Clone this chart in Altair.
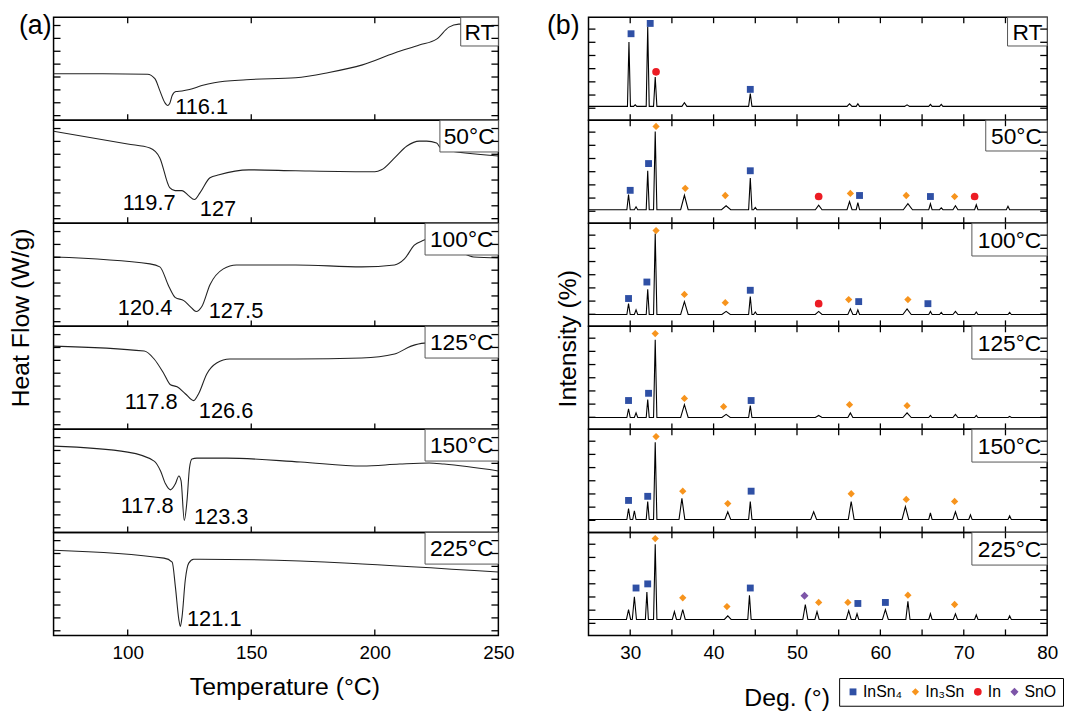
import altair as alt
import pandas as pd

FONT = "Liberation Sans"
W_L, W_R, H = 449, 463, 104

PANELS = ["RT", "50°C", "100°C", "125°C", "150°C", "225°C"]

# ---------------- DSC curves (T in °C, y = fraction of panel height) ----------------
DSC_RT = [(70, 0.452), (90, 0.452), (108, 0.447), (111, 0.404), (113, 0.288), (115, 0.173),
          (116.1, 0.144), (117, 0.163), (118, 0.24), (119.5, 0.279), (122, 0.284), (125, 0.298),
          (130, 0.337), (135, 0.365), (148, 0.394), (168, 0.413), (181, 0.462), (195, 0.538),
          (208, 0.654), (218, 0.731), (225, 0.788), (230, 0.904), (234, 0.933), (250, 0.942)]
DSC_50 = [(70, 0.894), (100, 0.77), (109, 0.731), (113, 0.635), (117, 0.346), (119.2, 0.317),
          (122, 0.317), (124.6, 0.269), (127, 0.231), (129.3, 0.298), (133.3, 0.442), (137, 0.471),
          (149, 0.519), (168, 0.510), (200, 0.50), (202.7, 0.519), (208, 0.635), (213, 0.75),
          (218, 0.798), (221, 0.798), (225, 0.779), (227, 0.721), (250, 0.654)]
DSC_100 = [(70, 0.673), (109, 0.606), (113, 0.577), (116.7, 0.385), (119.3, 0.279), (122.7, 0.25),
           (125.3, 0.192), (127.7, 0.144), (130, 0.192), (133.3, 0.404), (138.7, 0.558), (144, 0.596),
           (168, 0.596), (194.7, 0.577), (208, 0.596), (212, 0.654), (216, 0.788), (220, 0.837),
           (224, 0.885), (235, 0.721), (240, 0.673), (250, 0.663)]
DSC_125 = [(70, 0.808), (106.7, 0.760), (110.7, 0.683), (114.7, 0.538), (117.3, 0.433), (120, 0.413),
           (123.3, 0.346), (126.7, 0.279), (128.7, 0.346), (132, 0.538), (136, 0.644), (141.3, 0.683),
           (168, 0.683), (194.7, 0.692), (208, 0.731), (214.7, 0.808), (220, 0.837), (250, 0.856)]
DSC_150 = [(70, 0.837), (100, 0.779), (110.7, 0.692), (113.3, 0.596), (115.3, 0.471), (117.3, 0.413),
           (119.3, 0.471), (120.7, 0.548), (121.6, 0.50), (122.9, 0.115), (124, 0.308), (125, 0.625),
           (126, 0.712), (128, 0.721), (140, 0.721), (170, 0.683), (195, 0.644), (210, 0.663),
           (222, 0.673), (228, 0.663), (250, 0.596)]
DSC_225 = [(70, 0.827), (114.7, 0.75), (118, 0.712), (119.3, 0.471), (120.7, 0.154), (121.3, 0.087),
           (122, 0.183), (123.3, 0.538), (124.7, 0.702), (126.7, 0.740), (129.3, 0.740), (250, 0.615)]
DSC_CURVES = [DSC_RT, DSC_50, DSC_100, DSC_125, DSC_150, DSC_225]

# peak labels: (T at left edge of text, y fraction, text)
DSC_LABELS = [
    [(119.2, 0.125, "116.1")],
    [(98.0, 0.20, "119.7"), (129.2, 0.135, "127")],
    [(96.0, 0.18, "120.4"), (132.8, 0.145, "127.5")],
    [(98.8, 0.265, "117.8"), (128.8, 0.18, "126.6")],
    [(97.2, 0.26, "117.8"), (126.8, 0.15, "123.3")],
    [(124.0, 0.155, "121.1")],
]

# ---------------- XRD patterns: baseline + peaks (position °, top fraction, half width °) ----------------
XRD_BASE = [0.135, 0.132, 0.115, 0.115, 0.125, 0.155]
XRD_RT = [(29.85, 0.76, 0.18), (30.6, 0.15, 0.2), (32.1, 0.91, 0.18), (33.0, 0.42, 0.2),
          (36.5, 0.17, 0.3), (44.4, 0.26, 0.2), (56.3, 0.16, 0.3), (57.3, 0.16, 0.2),
          (63.2, 0.15, 0.3), (66.0, 0.155, 0.2), (67.3, 0.155, 0.2)]
XRD_50 = [(29.8, 0.28, 0.2), (30.7, 0.16, 0.2), (32.1, 0.51, 0.18), (33.0, 0.89, 0.2),
          (36.5, 0.272, 0.45), (41.5, 0.17, 0.55), (44.4, 0.44, 0.2), (45.0, 0.155, 0.2),
          (52.6, 0.176, 0.4), (56.3, 0.21, 0.3), (57.3, 0.20, 0.2), (63.3, 0.19, 0.55),
          (66.0, 0.19, 0.2), (67.3, 0.15, 0.2), (69.0, 0.17, 0.3), (71.5, 0.18, 0.2), (75.3, 0.165, 0.2)]
XRD_100 = [(29.8, 0.22, 0.2), (30.7, 0.16, 0.2), (32.1, 0.36, 0.18), (33.0, 0.90, 0.2),
           (36.5, 0.24, 0.45), (41.5, 0.145, 0.5), (44.4, 0.29, 0.2), (45.0, 0.14, 0.2),
           (52.6, 0.145, 0.4), (56.4, 0.17, 0.3), (57.3, 0.16, 0.2), (63.2, 0.17, 0.5),
           (66.0, 0.145, 0.2), (67.3, 0.135, 0.2), (69.0, 0.145, 0.3), (71.5, 0.14, 0.2), (75.5, 0.135, 0.2)]
XRD_125 = [(29.8, 0.20, 0.2), (30.7, 0.16, 0.2), (32.1, 0.29, 0.18), (33.0, 0.87, 0.2),
           (36.5, 0.24, 0.45), (41.5, 0.145, 0.5), (44.4, 0.23, 0.2), (52.6, 0.135, 0.4),
           (56.4, 0.16, 0.3), (63.2, 0.16, 0.5), (66.0, 0.135, 0.2), (69.0, 0.145, 0.3),
           (71.5, 0.135, 0.2), (75.5, 0.125, 0.2)]
XRD_150 = [(29.8, 0.23, 0.2), (30.5, 0.21, 0.2), (32.1, 0.30, 0.18), (33.0, 0.875, 0.2),
           (36.2, 0.33, 0.35), (41.7, 0.20, 0.35), (44.4, 0.30, 0.2), (52.0, 0.20, 0.35),
           (56.5, 0.30, 0.35), (63.0, 0.25, 0.4), (66.0, 0.19, 0.2), (69.0, 0.20, 0.3),
           (70.8, 0.17, 0.2), (75.5, 0.16, 0.2)]
XRD_225 = [(29.8, 0.25, 0.25), (30.5, 0.375, 0.25), (32.0, 0.42, 0.18), (33.0, 0.885, 0.2),
           (35.3, 0.23, 0.25), (36.3, 0.25, 0.3), (41.7, 0.19, 0.4), (44.3, 0.39, 0.2),
           (51.0, 0.30, 0.3), (52.4, 0.23, 0.25), (56.2, 0.24, 0.3), (57.2, 0.21, 0.2),
           (60.6, 0.25, 0.35), (63.3, 0.33, 0.25), (66.0, 0.21, 0.2), (69.0, 0.21, 0.25),
           (71.5, 0.20, 0.2), (75.5, 0.19, 0.2)]
XRD_PEAKS = [XRD_RT, XRD_50, XRD_100, XRD_125, XRD_150, XRD_225]

# ---------------- phase markers: (phase, position °, y fraction) ----------------
PHASES = ["InSn₄", "In₃Sn", "In", "SnO"]
PHASE_COLORS = ["#2f50a5", "#f7941d", "#ec1c24", "#7d55a8"]
PHASE_SHAPES = ["square", "diamond", "circle", "diamond"]
PHASE_SIZES = [48, 66, 52, 150]

MARK_RT = [("InSn₄", 30.1, 0.84), ("InSn₄", 32.4, 0.94), ("In", 33.1, 0.47), ("InSn₄", 44.4, 0.30)]
MARK_50 = [("InSn₄", 30.0, 0.32), ("InSn₄", 32.2, 0.58), ("In₃Sn", 33.1, 0.94), ("In₃Sn", 36.6, 0.34),
           ("In₃Sn", 41.4, 0.27), ("InSn₄", 44.4, 0.51), ("In", 52.6, 0.26), ("In₃Sn", 56.4, 0.29),
           ("InSn₄", 57.5, 0.27), ("In₃Sn", 63.1, 0.27), ("InSn₄", 66.0, 0.26), ("In₃Sn", 68.9, 0.26),
           ("In", 71.3, 0.26)]
MARK_100 = [("InSn₄", 29.8, 0.27), ("InSn₄", 32.0, 0.43), ("In₃Sn", 33.1, 0.93), ("In₃Sn", 36.5, 0.31),
            ("In₃Sn", 41.4, 0.23), ("InSn₄", 44.4, 0.35), ("In", 52.6, 0.22), ("In₃Sn", 56.2, 0.26),
            ("InSn₄", 57.4, 0.24), ("In₃Sn", 63.3, 0.26), ("InSn₄", 65.7, 0.22)]
MARK_125 = [("InSn₄", 29.8, 0.28), ("InSn₄", 32.2, 0.35), ("In₃Sn", 33.0, 0.93), ("In₃Sn", 36.5, 0.30),
            ("In₃Sn", 41.2, 0.22), ("InSn₄", 44.5, 0.28), ("In₃Sn", 56.3, 0.24), ("In₃Sn", 63.2, 0.23)]
MARK_150 = [("InSn₄", 29.8, 0.31), ("InSn₄", 32.1, 0.35), ("In₃Sn", 33.1, 0.93), ("In₃Sn", 36.3, 0.40),
            ("In₃Sn", 41.7, 0.28), ("InSn₄", 44.5, 0.40), ("In₃Sn", 56.5, 0.375), ("In₃Sn", 63.1, 0.32),
            ("In₃Sn", 68.9, 0.30)]
MARK_225 = [("InSn₄", 30.7, 0.46), ("InSn₄", 32.1, 0.50), ("In₃Sn", 33.0, 0.94), ("In₃Sn", 36.3, 0.365),
            ("In₃Sn", 41.6, 0.28), ("InSn₄", 44.4, 0.46), ("SnO", 50.9, 0.385), ("In₃Sn", 52.6, 0.32),
            ("In₃Sn", 56.1, 0.32), ("InSn₄", 57.3, 0.31), ("InSn₄", 60.6, 0.32), ("In₃Sn", 63.3, 0.39),
            ("In₃Sn", 68.9, 0.30)]
MARKS = [MARK_RT, MARK_50, MARK_100, MARK_125, MARK_150, MARK_225]

# ---------------- axes ticks ----------------
DSC_XTICKS = [100, 150, 200]
DSC_XLABELS = [100, 150, 200, 250]
XRD_XTICKS = [30, 35, 40, 45, 50, 55, 60, 65, 70, 75]
XRD_XLABELS = [30, 40, 50, 60, 70, 80]
DSC_YTICKS = [0.045, 0.17, 0.295, 0.42, 0.545, 0.67, 0.795, 0.92]
XRD_YTICKS = [0.117, 0.245, 0.373, 0.501, 0.629, 0.757, 0.885]

# label box sizes (width, height) for each panel
DSC_BOX = [(38, 29), (59, 32), (74, 32), (74, 32), (74, 32), (74, 32)]
XRD_BOX = [(40, 29), (62, 31), (76, 33), (76, 33), (76, 33), (76, 33)]


def yscale():
    return alt.Scale(domain=[0, 1], nice=False, zero=False)


def xy_df(pairs):
    return pd.DataFrame(pairs, columns=["x", "y"])


def tick_layers(xs, xaxis, yaxis, xticks, yticks, W, top):
    xdf = pd.DataFrame({"x": xticks})
    ydf = pd.DataFrame({"y": yticks})
    rule = dict(color="black", strokeWidth=1.3)
    out = [
        alt.Chart(xdf).mark_rule(**rule).encode(
            x=alt.X("x:Q", scale=xs, axis=xaxis), y=alt.value(H - 6), y2=alt.value(H)),
        alt.Chart(ydf).mark_rule(**rule).encode(
            y=alt.Y("y:Q", scale=yscale(), axis=yaxis), x=alt.value(0), x2=alt.value(7)),
        alt.Chart(ydf).mark_rule(**rule).encode(
            y=alt.Y("y:Q", scale=yscale(), axis=yaxis), x=alt.value(W - 7), x2=alt.value(W)),
    ]
    if top:
        out.append(alt.Chart(xdf).mark_rule(**rule).encode(
            x=alt.X("x:Q", scale=xs, axis=xaxis), y=alt.value(0), y2=alt.value(6)))
    return out


def box_layers(label, bw, bh, W):
    d = pd.DataFrame({"t": [label]})
    rect = alt.Chart(d).mark_rect(fill="white", stroke="#555555", strokeWidth=1).encode(
        x=alt.value(W - bw), x2=alt.value(W), y=alt.value(0), y2=alt.value(bh))
    txt = alt.Chart(d).mark_text(fontSize=23, font=FONT, color="black",
                                 align="center", baseline="middle").encode(
        x=alt.value(W - bw / 2), y=alt.value(bh / 2 + 1), text="t:N")
    return [rect, txt]


def corner_label(text, dx):
    d = pd.DataFrame({"t": [text]})
    return alt.Chart(d).mark_text(fontSize=27, font=FONT, color="black",
                                  align="right", baseline="middle").encode(
        x=alt.value(dx), y=alt.value(9), text="t:N")


# ---------------- left column: DSC ----------------
left_panels = []
for i, name in enumerate(PANELS):
    xs = alt.Scale(domain=[70, 250], nice=False, zero=False)
    if i == 5:
        xaxis = alt.Axis(values=DSC_XLABELS, format="d", ticks=False, domain=False, grid=False,
                         labelFontSize=19, labelPadding=8, labelFlush=False,
                         title="Temperature (°C)", titleFontSize=25, titleX=233, titleY=52,
                         titleAlign="center", titleBaseline="middle")
    else:
        xaxis = None
    if i == 2:
        yaxis = alt.Axis(labels=False, ticks=False, domain=False, grid=False,
                         title="Heat Flow (W/g)", titleFontSize=25, titleX=-33, titleY=95,
                         titleAngle=270, titleAlign="center", titleBaseline="middle")
    else:
        yaxis = None
    line = alt.Chart(xy_df(DSC_CURVES[i])).mark_line(
        color="#222222", strokeWidth=1.1, interpolate="monotone").encode(
        x=alt.X("x:Q", scale=xs, axis=xaxis), y=alt.Y("y:Q", scale=yscale(), axis=yaxis))
    lab = alt.Chart(pd.DataFrame(DSC_LABELS[i], columns=["x", "y", "t"])).mark_text(
        fontSize=22, font=FONT, color="black", align="left", baseline="middle").encode(
        x=alt.X("x:Q", scale=xs, axis=xaxis), y=alt.Y("y:Q", scale=yscale(), axis=yaxis),
        text="t:N")
    layers = [line, lab] + box_layers(name, *DSC_BOX[i], W_L) + \
        tick_layers(xs, xaxis, yaxis, DSC_XTICKS, DSC_YTICKS, W_L, top=(i == 0))
    if i == 0:
        layers.append(corner_label("(a)", -2))
    left_panels.append(alt.layer(*layers).properties(width=W_L, height=H))

# ---------------- right column: XRD ----------------
right_panels = []
for i, name in enumerate(PANELS):
    xs = alt.Scale(domain=[25, 80], nice=False, zero=False)
    base = XRD_BASE[i]
    pts = [(25.0, base)]
    for pos, top, hw in sorted(XRD_PEAKS[i]):
        pts += [(pos - hw, base), (pos, top), (pos + hw, base)]
    pts.append((80.0, base))
    if i == 5:
        xaxis = alt.Axis(values=XRD_XLABELS, format="d", ticks=False, domain=False, grid=False,
                         labelFontSize=19, labelPadding=8, labelFlush=False,
                         title="Deg. (°)", titleFontSize=25, titleX=200, titleY=63,
                         titleAlign="center", titleBaseline="middle")
        leg = alt.Legend(orient="none", legendX=253, legendY=147, direction="horizontal",
                         columns=4, gridAlign="each", title=None, labelFontSize=16,
                         labelFont=FONT, labelColor="black", symbolSize=50,
                         strokeColor="black", fillColor="white", padding=6,
                         columnPadding=5, labelOffset=2, offset=0)
    else:
        xaxis = None
        leg = None
    if i == 3:
        yaxis = alt.Axis(labels=False, ticks=False, domain=False, grid=False,
                         title="Intensity (%)", titleFontSize=25, titleX=-21, titleY=12,
                         titleAngle=270, titleAlign="center", titleBaseline="middle")
    else:
        yaxis = None
    line = alt.Chart(xy_df(pts)).mark_line(color="black", strokeWidth=1.1).encode(
        x=alt.X("x:Q", scale=xs, axis=xaxis), y=alt.Y("y:Q", scale=yscale(), axis=yaxis))
    mk = alt.Chart(pd.DataFrame(MARKS[i], columns=["phase", "x", "y"])).mark_point(
        filled=True, opacity=1).encode(
        x=alt.X("x:Q", scale=xs, axis=xaxis),
        y=alt.Y("y:Q", scale=yscale(), axis=yaxis),
        color=alt.Color("phase:N", scale=alt.Scale(domain=PHASES, range=PHASE_COLORS), legend=leg),
        shape=alt.Shape("phase:N", scale=alt.Scale(domain=PHASES, range=PHASE_SHAPES), legend=leg),
        size=alt.Size("phase:N", scale=alt.Scale(domain=PHASES, range=PHASE_SIZES), legend=None))
    layers = [line, mk] + box_layers(name, *XRD_BOX[i], W_R) + \
        tick_layers(xs, xaxis, yaxis, XRD_XTICKS, XRD_YTICKS, W_R, top=True)
    if i == 0:
        layers.append(corner_label("(b)", -9))
    right_panels.append(alt.layer(*layers).properties(width=W_R, height=H))

res = dict(color="independent", shape="independent", size="independent")
left_col = alt.vconcat(*left_panels, spacing=0, bounds="flush")
right_col = alt.vconcat(*right_panels, spacing=0, bounds="flush").resolve_scale(**res)

chart = alt.hconcat(left_col, right_col, spacing=31).resolve_scale(**res).properties(
    padding={"left": 0, "top": 0, "right": 0, "bottom": 0}
).configure_view(stroke="black", strokeWidth=1.5).configure_axis(
    labelColor="black", titleColor="black", labelFont=FONT, titleFont=FONT,
    titleFontWeight="normal").configure_text(font=FONT)

chart.save("out.html", embed_options={"renderer": "svg", "actions": False})
